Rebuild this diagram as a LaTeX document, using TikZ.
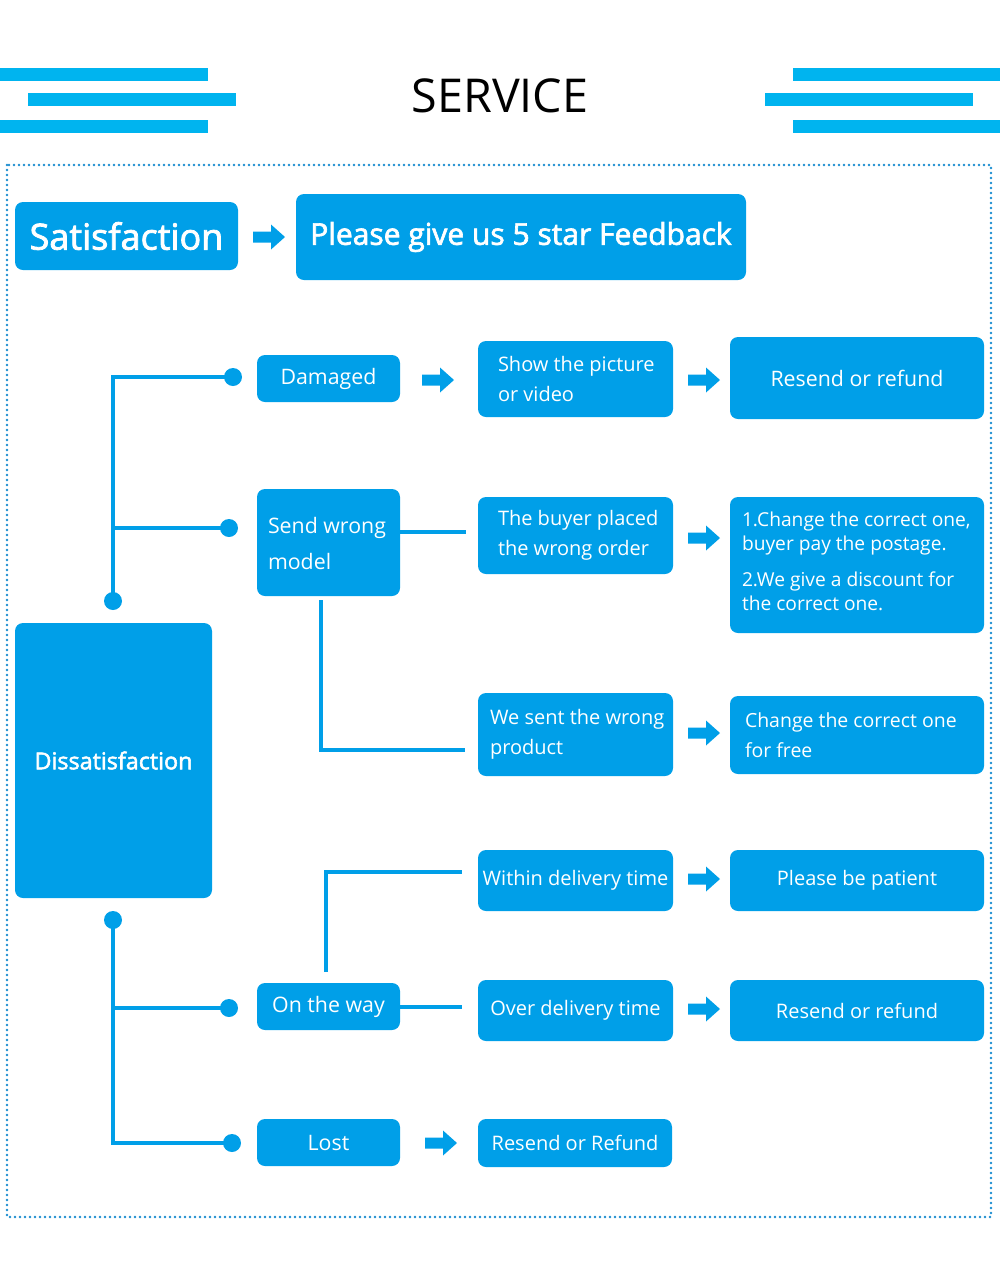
\documentclass[tikz,border=0pt]{standalone}
\usepackage{fontspec}
\setmainfont{Open Sans}
\newfontfamily\semib[FakeBold=2.2]{Open Sans}
\definecolor{boxc}{HTML}{009FE8}
\definecolor{barc}{HTML}{00B4EF}
\definecolor{bordc}{HTML}{1A8CD0}
\newcommand\bx[6][]{%
  \pgfmathsetmacro\bxCX{(#3+#5)/2}\pgfmathsetmacro\bxCY{(#4+#6)/2}%
  \pgfmathsetmacro\bxW{(#5-#3)*0.75}\pgfmathsetmacro\bxH{(#6-#4)*0.75}%
  \node[box,minimum width=\bxW pt,minimum height=\bxH pt,#1] (#2) at (\bxCX,\bxCY) {};}
\tikzset{
  box/.style={fill=boxc, rounded corners=6pt, inner sep=0pt, draw=none},
  txt/.style={text=white, inner sep=0pt},
  conn/.style={draw=boxc, line width=2.4pt},
  dot/.style={circle, fill=boxc, inner sep=0pt, minimum size=13.5pt},
  barrow/.pic={\fill[boxc] (0,-5.5) -- (18,-5.5) -- (18,-12.5) -- (32,0) -- (18,12.5) -- (18,5.5) -- (0,5.5) -- cycle;}
}
\begin{document}
\begin{tikzpicture}[x=0.75pt,y=-0.75pt]
\useasboundingbox (0,0) rectangle (1000,1265);
% title bars
\fill[barc] (0,68) rectangle (208,81);
\fill[barc] (28,93) rectangle (236,106);
\fill[barc] (0,120) rectangle (208,133);
\fill[barc] (793,68) rectangle (1000,81);
\fill[barc] (765,93) rectangle (973,106);
\fill[barc] (793,120) rectangle (1000,133);
\node[inner sep=0pt] (title) at (500,96) {\fontsize{35}{40}\selectfont SERVICE};
% dotted frame
\draw[bordc, line width=2.1pt, dash pattern=on 0pt off 3.75pt, line cap=round] (7,165) rectangle (991,1217);
% boxes
\bx{sat}{15}{202}{238}{270}
\bx{please}{296}{194}{746}{280}
\bx{dam}{257}{355}{400}{402}
\bx{show}{478}{341}{673}{417}
\bx{res1}{730}{337}{984}{419}
\bx{send}{257}{489}{400}{596}
\bx{buyer}{478}{497}{673}{574}
\bx{chg}{730}{497}{984}{633}
\bx{wesent}{478}{693}{673}{776}
\bx{chgfree}{730}{696}{984}{774}
\bx{dis}{15}{623}{212}{898}
\bx{within}{478}{850}{673}{911}
\bx{patient}{730}{850}{984}{911}
\bx{way}{257}{983}{400}{1030}
\bx{over}{478}{980}{673}{1041}
\bx{res2}{730}{980}{984}{1041}
\bx{lost}{257}{1119}{400}{1166}
\bx{res3}{478}{1119}{672}{1167}
% texts
\node[txt] (sat-t) at (sat) {\semib\fontsize{27}{30}\selectfont Satisfaction};
\node[txt] (please-t) at (please) {\semib\fontsize{22.5}{26}\selectfont Please give us 5 star Feedback};
\node[txt] (dis-t) at (dis) {\semib\fontsize{17.5}{20}\selectfont Dissatisfaction};
\node[txt] (dam-t) at (dam) {\fontsize{16}{20}\selectfont Damaged};
\node[txt,anchor=west,align=left,font=\fontsize{16}{27}\selectfont] (send-t) at ([xshift=8.25pt,yshift=-1pt]send.west) {Send wrong\\model};
\node[txt] (way-t) at (way) {\fontsize{16}{20}\selectfont On the way};
\node[txt] (lost-t) at (lost) {\fontsize{16}{20}\selectfont Lost};
\node[txt,anchor=west,align=left,font=\fontsize{15}{22.5}\selectfont] (show-t) at ([xshift=15pt]show.west) {Show the picture\\or video};
\node[txt,anchor=west,align=left,font=\fontsize{15}{22.5}\selectfont] (buyer-t) at ([xshift=15pt]buyer.west) {The buyer placed\\the wrong order};
\node[txt,anchor=west,align=left,font=\fontsize{15}{22.5}\selectfont] (wesent-t) at ([xshift=9pt]wesent.west) {We sent the wrong\\product};
\node[txt] (within-t) at (within) {\fontsize{15}{20}\selectfont Within delivery time};
\node[txt] (over-t) at (over) {\fontsize{15}{20}\selectfont Over delivery time};
\node[txt] (res3-t) at (res3) {\fontsize{15}{20}\selectfont Resend or Refund};
\node[txt] (res1-t) at (res1) {\fontsize{16}{20}\selectfont Resend or refund};
\node[txt,anchor=west,align=left,font=\fontsize{14.4}{18}\selectfont] (chg-t) at ([xshift=9pt,yshift=3pt]chg.west) {1.Change the correct one,\\buyer pay the postage.\\[9pt]2.We give a discount for\\the correct one.};
\node[txt,anchor=west,align=left,font=\fontsize{14.6}{22.5}\selectfont] (chgfree-t) at ([xshift=11.25pt]chgfree.west) {Change the correct one\\for free};
\node[txt] (patient-t) at (patient) {\fontsize{15}{20}\selectfont Please be patient};
\node[txt] (res2-t) at (res2) {\fontsize{15}{20}\selectfont Resend or refund};
% arrows
\pic (a1) at (253,237) {barrow};
\pic (a2) at (422,380) {barrow};
\pic (a3) at (688,380) {barrow};
\pic (a4) at (688,538) {barrow};
\pic (a5) at (688,733) {barrow};
\pic (a6) at (688,879) {barrow};
\pic (a7) at (688,1009) {barrow};
\pic (a8) at (425,1143) {barrow};
% dots
\node[dot] (dtop) at (113,601) {};
\node[dot] (ddam) at (233,377) {};
\node[dot] (dsend) at (229,528) {};
\node[dot] (dbot) at (113,920) {};
\node[dot] (dway) at (229,1008) {};
\node[dot] (dlost) at (232,1143) {};
% connectors
\draw[conn] (dtop.center) |- (ddam.center);
\draw[conn] (dtop.center |- dsend.center) -- (dsend.center);
\draw[conn] (dbot.center) |- (dlost.center);
\draw[conn] (dbot.center |- dway.center) -- (dway.center);
\coordinate (c1) at (466,532);
\coordinate (c2) at (321,600);
\coordinate (c3) at (465,750);
\coordinate (c4) at (462,1007);
\coordinate (c5) at (326,972);
\coordinate (c6) at (462,872);
\draw[conn] (c1 -| send.east) -- (c1);
\draw[conn] (c2) |- (c3);
\draw[conn] (c4 -| way.east) -- (c4);
\draw[conn] (c5) |- (c6);
\end{tikzpicture}
\end{document}
